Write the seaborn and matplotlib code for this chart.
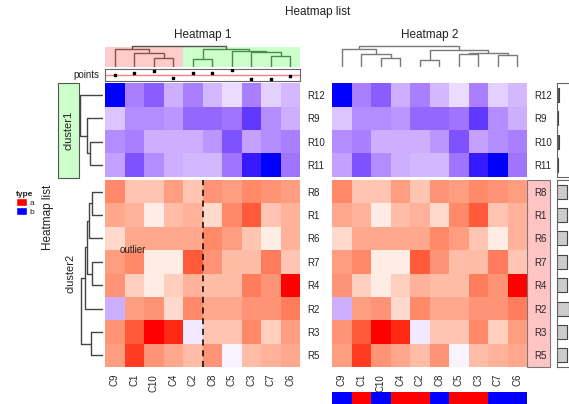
import numpy as np
import pandas as pd
import matplotlib
matplotlib.use("Agg")
import matplotlib.pyplot as plt
import seaborn as sns
from matplotlib.colors import ListedColormap
from matplotlib.patches import Rectangle, Patch

# ---- data ----
col_labels = ['C9', 'C1', 'C10', 'C4', 'C2', 'C8', 'C5', 'C3', 'C7', 'C6']
rows_c1 = ['R12', 'R9', 'R10', 'R11']
rows_c2 = ['R8', 'R1', 'R6', 'R7', 'R4', 'R2', 'R3', 'R5']

vals_c1 = [
    [-1.00, -0.55, -0.70, -0.35, -0.55, -0.30, -0.15, -0.55, -0.20, -0.30],
    [-0.25, -0.50, -0.50, -0.45, -0.65, -0.65, -0.60, -0.85, -0.50, -0.35],
    [-0.50, -0.55, -0.35, -0.35, -0.35, -0.45, -0.75, -0.40, -0.50, -0.55],
    [-0.40, -0.75, -0.50, -0.35, -0.30, -0.30, -0.60, -0.95, -1.00, -0.60],
]
vals_c2 = [
    [0.60, 0.30, 0.30, 0.50, 0.30, 0.55, 0.50, 0.60, 0.55, 0.50],
    [0.45, 0.40, 0.10, 0.35, 0.40, 0.20, 0.60, 0.80, 0.30, 0.40],
    [0.20, 0.45, 0.45, 0.45, 0.45, 0.60, 0.50, 0.30, 0.10, 0.40],
    [0.50, 0.60, 0.10, 0.10, 0.80, 0.55, 0.35, 0.35, 0.65, 0.30],
    [0.55, 0.25, 0.10, 0.25, 0.40, 0.35, 0.35, 0.65, 0.55, 1.00],
    [-0.35, 0.50, 0.55, 0.20, 0.60, 0.45, 0.45, 0.55, 0.55, 0.65],
    [0.55, 0.80, 1.00, 0.95, -0.10, 0.30, 0.30, 0.60, 0.25, 0.50],
    [0.50, 0.90, 0.55, 0.45, 0.35, 0.55, -0.05, 0.35, 0.40, 0.45],
]
col_type = ['b', 'a', 'b', 'a', 'a', 'b', 'a', 'a', 'b', 'b']
points = [0.0, 0.8, 1.2, -0.7, 0.6, 0.8, 1.4, -1.0, -1.1, -0.1]
bars_c1 = [0.04, 0.03, 0.04, 0.03]
bars_c2 = [0.26, 0.25, 0.26, 0.26, 0.25, 0.30, 0.26, 0.26]

# dendrograms: leaf index or (left, right, height[, colour])
tree_h1 = ((0, (1, (2, 3, 8.7), 13.7), 17.7, '#8a5050'),
           ((4, 5, 7.7), (6, (7, (8, 9, 11.3), 14.7), 16.3), 17.7, '#4a8a4a'),
           21.0)
tree_h2 = ((0, (1, (2, 3, 9.4), 13.4), 18.4),
           ((4, 5, 7.4), ((6, 7, 13.4), (8, 9, 11.7), 14.0), 16.7),
           20.7)
tree_r1 = (0, (1, (2, 3, 13), 16), 23)
tree_r2 = (((((0, 1, 11), 2, 14.3), (3, 4, 11), 15.7), 5, 17.7), (6, 7, 11.7), 22.3)

# ---- colour map: blue - white - red interpolated in LAB ----
def srgb_to_lab(c):
    c = np.asarray(c, float)
    lin = np.where(c <= 0.04045, c / 12.92, ((c + 0.055) / 1.055) ** 2.4)
    M = np.array([[0.4124, 0.3576, 0.1805], [0.2126, 0.7152, 0.0722], [0.0193, 0.1192, 0.9505]])
    xyz = M @ lin / np.array([0.95047, 1.0, 1.08883])
    f = np.where(xyz > 0.008856, np.cbrt(xyz), 7.787 * xyz + 16 / 116)
    return np.array([116 * f[1] - 16, 500 * (f[0] - f[1]), 200 * (f[1] - f[2])])

def lab_to_srgb(lab):
    L, a, b = lab
    fy = (L + 16) / 116
    f = np.array([fy + a / 500, fy, fy - b / 200])
    xyz = np.where(f ** 3 > 0.008856, f ** 3, (f - 16 / 116) / 7.787) * np.array([0.95047, 1.0, 1.08883])
    Mi = np.array([[3.2406, -1.5372, -0.4986], [-0.9689, 1.8758, 0.0415], [0.0557, -0.2040, 1.0570]])
    lin = np.clip(Mi @ xyz, 0, 1)
    return np.clip(np.where(lin <= 0.0031308, 12.92 * lin, 1.055 * lin ** (1 / 2.4) - 0.055), 0, 1)

lab_b, lab_w, lab_r = srgb_to_lab([0, 0, 1]), srgb_to_lab([1, 1, 1]), srgb_to_lab([1, 0, 0])
ramp = []
for t in np.linspace(-1, 1, 256):
    lab = lab_b + (lab_w - lab_b) * (t + 1) if t < 0 else lab_w + (lab_r - lab_w) * t
    ramp.append(lab_to_srgb(lab))
cmap = ListedColormap(ramp)

sns.set_theme(style="white")
plt.rcParams['font.family'] = ['Liberation Sans', 'DejaVu Sans']
plt.rcParams['text.color'] = '#222222'

W, H = 569, 404
fig = plt.figure(figsize=(W / 100, H / 100), dpi=100)
fig.patch.set_facecolor('white')


def px_axes(x, y, w, h):
    return fig.add_axes([x / W, 1 - (y + h) / H, w / W, h / H])


def fig_rect(x, y, w, h, **kw):
    fig.patches.append(Rectangle((x / W, 1 - (y + h) / H), w / W, h / H,
                                 transform=fig.transFigure, zorder=-1, **kw))


def draw_dendro(ax, tree, color, orient):
    def rec(node, c):
        if isinstance(node, int):
            return node + 0.5, 0.0
        if len(node) == 4:
            c = node[3]
        xl, hl = rec(node[0], c)
        xr, hr = rec(node[1], c)
        h = node[2]
        pos, hts = [xl, xl, xr, xr], [hl, h, h, hr]
        if orient == 'top':
            ax.plot(pos, hts, color=c, lw=1.0, solid_capstyle='butt')
        else:
            ax.plot(hts, pos, color=c, lw=1.0, solid_capstyle='butt')
        return (xl + xr) / 2, h
    rec(tree, color)
    ax.axis('off')


def draw_block(x, y, h, data, rows, show_cols=False):
    ax = px_axes(x, y, 195, h)
    df = pd.DataFrame(data, index=rows, columns=col_labels)
    sns.heatmap(df, ax=ax, cmap=cmap, vmin=-1, vmax=1, cbar=False,
                xticklabels=show_cols, yticklabels=True)
    ax.set_xlabel('')
    ax.set_ylabel('')
    ax.yaxis.tick_right()
    ax.tick_params(axis='y', length=0, pad=5, labelsize=7, labelrotation=0)
    if show_cols:
        ax.tick_params(axis='x', length=0, pad=5, labelsize=7, labelrotation=90)
    return ax


# ---- heatmap bodies ----
for x0 in (105, 332):
    draw_block(x0, 83, 94, vals_c1, rows_c1)
    ax2 = draw_block(x0, 180, 187, vals_c2, rows_c2, show_cols=True)
    if x0 == 105:
        ax2.axvline(5, color='black', ls=(0, (4, 3)), lw=1.1)
        ax2.text(0.77, 3.0, 'outlier', fontsize=7, va='center', ha='left')

# pink row-name box of heatmap 2, cluster2
fig_rect(527, 180, 23, 187, facecolor='#ffc4c4', edgecolor='#777777', lw=0.8)

# ---- column dendrograms ----
axd1 = px_axes(105, 44, 195, 23)
axd1.add_patch(Rectangle((0, 0), 4, 20, facecolor='#ffcccc', lw=0))
axd1.add_patch(Rectangle((4, 0), 6, 20, facecolor='#ccffcc', lw=0))
draw_dendro(axd1, tree_h1, '#555555', 'top')
axd1.set_xlim(0, 10)
axd1.set_ylim(0, 23)

axd2 = px_axes(332, 44, 195, 23)
draw_dendro(axd2, tree_h2, '#7a7a7a', 'top')
axd2.set_xlim(0, 10)
axd2.set_ylim(0, 23)

# ---- row dendrograms ----
axr1 = px_axes(78, 83, 25, 94)
draw_dendro(axr1, tree_r1, '#444444', 'left')
axr1.set_xlim(25, 0)
axr1.set_ylim(4, 0)

axr2 = px_axes(78, 180, 25, 187)
draw_dendro(axr2, tree_r2, '#444444', 'left')
axr2.set_xlim(25, 0)
axr2.set_ylim(8, 0)

# ---- points annotation ----
axp = px_axes(105, 69, 195, 12)
axp.axhline(0, color='#ff8080', lw=1)
axp.scatter(np.arange(10) + 0.5, points, s=3, marker='s', color='black', zorder=3)
axp.set_xlim(0, 10)
axp.set_ylim(-1.6, 1.8)
axp.set_xticks([])
axp.set_yticks([])
for s in axp.spines.values():
    s.set_visible(True)
    s.set_color('#666666')
    s.set_linewidth(0.8)
fig.text(99 / W, 1 - 75 / H, 'points', ha='right', va='center', fontsize=7)

# ---- bottom type annotation ----
axt = px_axes(332, 392, 195, 14)
sns.heatmap(pd.DataFrame([[1 if t == 'b' else 0 for t in col_type]], columns=col_labels),
            ax=axt, cmap=ListedColormap(['#ff0000', '#0000ff']), vmin=0, vmax=1,
            cbar=False, xticklabels=False, yticklabels=False)

# ---- right bar annotation ----
for y0, h0, vals, fc in ((83, 94, bars_c1, '#555555'), (180, 187, bars_c2, '#cccccc')):
    axb = px_axes(557, y0, 40, h0)
    axb.barh(np.arange(len(vals)), vals, height=0.6, color=fc, edgecolor='#444444', lw=0.8)
    axb.set_xlim(0, 1)
    axb.set_ylim(len(vals) - 0.5, -0.5)
    axb.set_xticks([])
    axb.set_yticks([])
    for s in axb.spines.values():
        s.set_visible(True)
        s.set_color('#666666')
        s.set_linewidth(0.8)

# ---- slice labels ----
fig_rect(58, 83, 21, 95, facecolor='#ccffcc', edgecolor='#555555', lw=0.8)
fig.text(68.5 / W, 1 - 130 / H, 'cluster1', rotation=90, ha='center', va='center', fontsize=8)
fig.text(70 / W, 1 - 273 / H, 'cluster2', rotation=90, ha='center', va='center', fontsize=8)
fig.text(48 / W, 1 - 217 / H, 'Heatmap list', rotation=90, ha='center', va='center', fontsize=8.5)

# ---- titles ----
fig.text(318 / W, 1 - 12 / H, 'Heatmap list', ha='center', va='center', fontsize=8.5)
fig.text(202.5 / W, 1 - 35 / H, 'Heatmap 1', ha='center', va='center', fontsize=8.5)
fig.text(429.5 / W, 1 - 35 / H, 'Heatmap 2', ha='center', va='center', fontsize=8.5)

# ---- legend ----
fig.legend(handles=[Patch(facecolor='#ff0000', label='a'), Patch(facecolor='#0000ff', label='b')],
           title='type', loc='upper left', bbox_to_anchor=(16 / W, 1 - 191 / H),
           frameon=False, fontsize=6, title_fontproperties={'weight': 'bold', 'size': 6},
           handlelength=1.3, handleheight=1.1, handletextpad=0.3, labelspacing=0.0,
           borderpad=0, borderaxespad=0, alignment='left')

fig.savefig('out.png', dpi=100)
